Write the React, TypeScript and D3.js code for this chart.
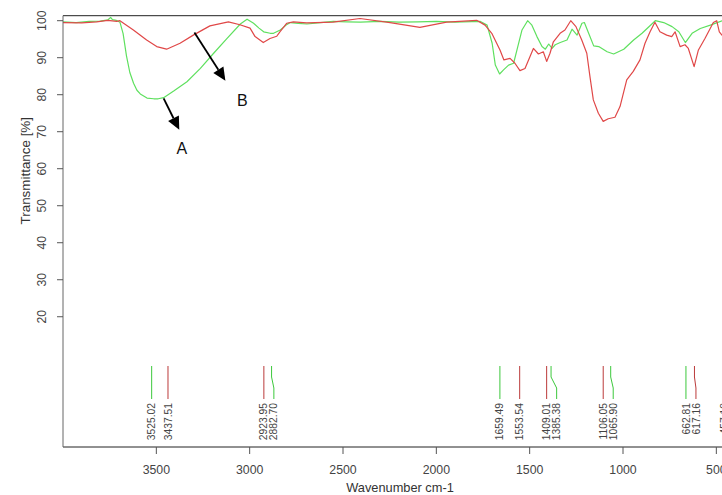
import * as d3 from "d3";

// spectrum A (green) as [wavenumber, transmittance %]
const seriesA: [number, number][] = [
  [4000, 99.7], [3930, 99.5], [3860, 99.8], [3800, 99.9], [3760, 100.2], [3745, 100.9],
  [3735, 100.3], [3715, 100.1], [3695, 99.6], [3678, 96.5], [3660, 90.5], [3642, 86],
  [3622, 83.1], [3604, 81.2], [3586, 80.2], [3550, 79.1], [3514, 78.9], [3490, 78.9],
  [3461, 79.2], [3407, 81], [3336, 83.5], [3264, 87.1], [3193, 91.2], [3121, 95.2],
  [3050, 99.1], [3014, 100.4], [2979, 99.3], [2950, 98], [2925, 97.0], [2890, 96.6],
  [2872, 96.6], [2836, 97.5], [2800, 99.0], [2782, 99.5], [2740, 99.3], [2693, 99.1],
  [2620, 99.5], [2552, 99.8], [2480, 99.7], [2407, 99.6], [2300, 99.8], [2200, 99.6],
  [2100, 99.7], [2000, 99.8], [1900, 99.6], [1764, 99.8], [1728, 98.8], [1701, 93.9],
  [1684, 88], [1661, 85.6], [1640, 86.7], [1613, 88], [1586, 88.5], [1568, 92.1],
  [1541, 97.5], [1511, 100], [1488, 98.8], [1461, 95.7], [1434, 93], [1416, 92.3],
  [1398, 93.7], [1380, 92.5], [1363, 93.5], [1336, 94.1], [1300, 94.8], [1273, 97.7],
  [1246, 96.1], [1220, 99.3], [1207, 99.5], [1184, 96.6], [1157, 93.2], [1130, 93],
  [1085, 91.6], [1050, 91], [996, 92.3], [943, 94.8], [898, 96.6], [871, 97.9],
  [827, 100], [782, 99.5], [737, 98.4], [701, 97.0], [666, 94.1], [630, 96.6],
  [586, 97.9], [532, 98.8], [469, 100], [400, 100],
];

// spectrum B (red)
const seriesB: [number, number][] = [
  [4000, 99.5], [3900, 99.4], [3820, 99.7], [3760, 100.1], [3712, 99.8], [3695, 100],
  [3623, 97.5], [3552, 94.8], [3498, 93], [3445, 92.3], [3373, 93.9], [3302, 96.1],
  [3213, 98.6], [3114, 99.7], [3052, 98.9], [2998, 98.0], [2971, 95.7], [2927, 94.1],
  [2891, 95.2], [2855, 95.8], [2838, 97], [2802, 99.3], [2766, 99.7], [2695, 99.4],
  [2554, 99.6], [2409, 100.6], [2248, 99.5], [2088, 98.2], [1945, 99.6], [1784, 100.1],
  [1739, 98.8], [1703, 96.6], [1659, 92.1], [1638, 89.4], [1605, 89.8], [1579, 88.5],
  [1552, 86.5], [1525, 87.1], [1498, 90.3], [1480, 92.5], [1453, 91], [1427, 91.6],
  [1409, 89], [1391, 91.2], [1373, 94.3], [1337, 96.6], [1311, 97.5], [1280, 100],
  [1252, 98.4], [1221, 94.8], [1194, 91.2], [1177, 84.9], [1159, 78.6], [1132, 75],
  [1106, 72.8], [1079, 73.5], [1043, 73.9], [1016, 76.8], [980, 84], [945, 86.3],
  [909, 89.4], [882, 93.9], [855, 97], [829, 99.6], [802, 97], [766, 96.1],
  [739, 95.7], [721, 97], [694, 93], [668, 93.5], [650, 92.5], [619, 87.6],
  [596, 92.1], [561, 95.2], [516, 99.5], [498, 100], [484, 97], [470, 96.1], [440, 95],
];

const peakWn = [3525.02, 3437.51, 2923.95, 2882.7, 1659.49, 1553.54, 1409.01, 1385.38, 1106.05, 1065.9, 662.81, 617.16, 457.18];
const peakSeries = ["A", "B", "B", "A", "A", "B", "B", "A", "B", "A", "A", "B", "B"];

const xTicks = [3500, 3000, 2500, 2000, 1500, 1000, 500];
const yTicks = [20, 30, 40, 50, 60, 70, 80, 90, 100];

// arrow annotations: [fromWn, fromT, toWn, toT], label position [wn, T]
const arrowA = [3461, 79.0, 3377, 70.5];
const labelA = [3363, 65.6];
const arrowB = [3296, 96.8, 3130, 83.8];
const labelB = [3039, 78.6];

const W = 722;
const H = 495;
const left = 63;
const top = 15.7;
const bottom = 447;

const colorA = "#5fe05f";
const colorB = "#e04848";
const peakColor: Record<string, string> = { A: "#3cc83c", B: "#bb3a3a" };
const font = "'Liberation Sans', Arial, sans-serif";

function Arrow({ a, x, y }: { a: number[]; x: any; y: any }) {
  const x1 = x(a[0]), y1 = y(a[1]), x2 = x(a[2]), y2 = y(a[3]);
  const ang = Math.atan2(y2 - y1, x2 - x1);
  const len = 13, half = 6;
  const bx = x2 - len * Math.cos(ang), by = y2 - len * Math.sin(ang);
  const px = -Math.sin(ang) * half, py = Math.cos(ang) * half;
  return (
    <g>
      <line x1={x1} y1={y1} x2={bx} y2={by} stroke="#000" strokeWidth={1.8} />
      <path d={`M${x2},${y2}L${bx + px},${by + py}L${bx - px},${by - py}Z`} fill="#000" />
    </g>
  );
}

export default function App() {
  const x = d3.scaleLinear().domain([4000, 400]).range([left, 735]);
  const y = d3.scaleLinear().domain([-15.2, 101.35]).range([bottom, top]);
  const line = d3.line<[number, number]>().x((d) => x(d[0])).y((d) => y(d[1]));

  // spread peak labels so they stay at least 10px apart
  const peaks = peakWn
    .map((wn, i) => ({ wn, s: peakSeries[i], px: x(wn), lx: x(wn) }))
    .sort((a, b) => a.px - b.px);
  for (let i = 1; i < peaks.length; i++) {
    if (peaks[i].lx - peaks[i - 1].lx < 10) peaks[i].lx = peaks[i - 1].lx + 10;
  }

  return (
    <svg width={W} height={H} style={{ position: "absolute", left: 0, top: 0, background: "#fff" }}>
      <defs>
        <clipPath id="plot">
          <rect x={left} y={top} width={W - left} height={bottom - top} />
        </clipPath>
      </defs>
      <rect width={W} height={H} fill="#fff" />

      <g clipPath="url(#plot)" fill="none" strokeWidth={1.2} strokeLinejoin="round">
        <path d={line(seriesA) || ""} stroke={colorA} />
        <path d={line(seriesB) || ""} stroke={colorB} />
      </g>

      {/* frame */}
      <line x1={left} x2={W} y1={top} y2={top} stroke="#222" />
      <line x1={left} x2={W} y1={bottom} y2={bottom} stroke="#222" />
      <line x1={left} x2={left} y1={top} y2={bottom} stroke="#666" />

      {/* y axis */}
      {yTicks.map((t) => (
        <g key={t} transform={`translate(${left},${y(t)})`}>
          <line x1={-6} x2={0} stroke="#555" />
          <text
            transform="translate(-17,0) rotate(-90)"
            textAnchor="middle"
            fontFamily={font}
            fontSize={12.3}
            fill="#444"
          >
            {t}
          </text>
        </g>
      ))}
      <text
        transform={`translate(30,${(y(100) + y(20)) / 2 + 2}) rotate(-90)`}
        textAnchor="middle"
        fontFamily={font}
        fontSize={13.4}
        fill="#333"
      >
        Transmittance [%]
      </text>

      {/* x axis */}
      {xTicks.map((t) => (
        <g key={t} transform={`translate(${x(t)},${bottom})`}>
          <line y1={0} y2={7} stroke="#555" />
          <text y={27} textAnchor="middle" fontFamily={font} fontSize={12.3} fill="#444">
            {t}
          </text>
        </g>
      ))}
      <text x={400} y={492} textAnchor="middle" fontFamily={font} fontSize={12.8} fill="#333">
        Wavenumber cm-1
      </text>

      {/* peak markers */}
      {peaks.map((p) => (
        <g key={p.wn}>
          <path
            d={
              p.lx === p.px
                ? `M${p.px},366V399`
                : `M${p.px},366V377L${p.lx},388V399`
            }
            fill="none"
            stroke={peakColor[p.s]}
            strokeWidth={1}
          />
          <text
            transform={`translate(${p.lx + 3.6},403) rotate(-90)`}
            textAnchor="end"
            fontFamily={font}
            fontSize={10.3}
            fill="#444"
          >
            {p.wn.toFixed(2)}
          </text>
        </g>
      ))}

      {/* annotations */}
      <Arrow a={arrowA} x={x} y={y} />
      <Arrow a={arrowB} x={x} y={y} />
      <text x={x(labelA[0])} y={y(labelA[1]) + 6} textAnchor="middle" fontFamily={font} fontSize={16} fill="#111">
        A
      </text>
      <text x={x(labelB[0])} y={y(labelB[1]) + 6} textAnchor="middle" fontFamily={font} fontSize={16} fill="#111">
        B
      </text>
    </svg>
  );
}
